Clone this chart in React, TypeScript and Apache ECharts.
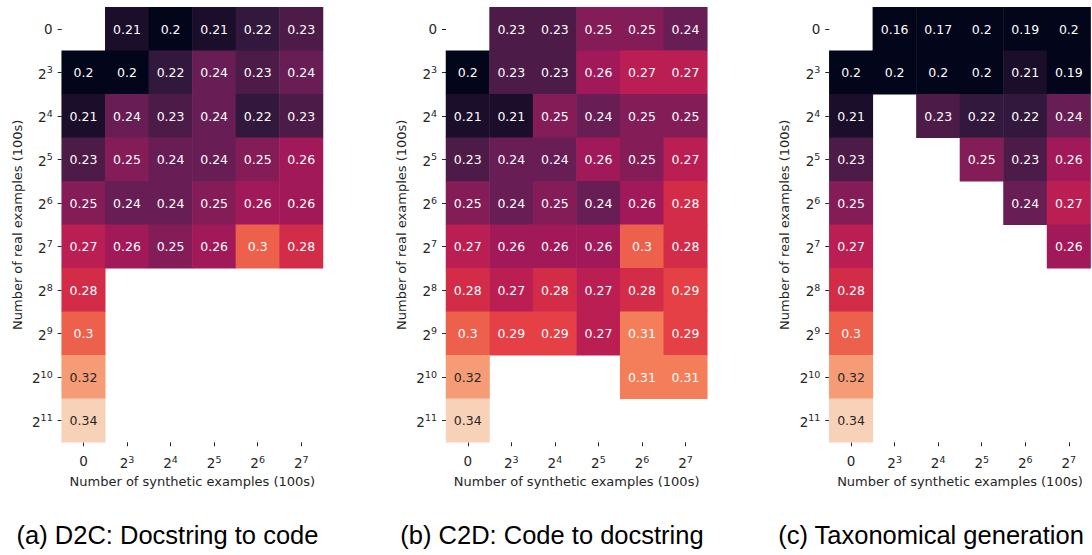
import React, { useEffect, useRef } from "react";
import * as echarts from "echarts";

const xCategories = ["0", "2^3", "2^4", "2^5", "2^6", "2^7"];
const yCategories = ["0", "2^3", "2^4", "2^5", "2^6", "2^7", "2^8", "2^9", "2^10", "2^11"];

const d2cValues: (number | null)[][] = [
  [null, 0.21, 0.2, 0.21, 0.22, 0.23],
  [0.2, 0.2, 0.22, 0.24, 0.23, 0.24],
  [0.21, 0.24, 0.23, 0.24, 0.22, 0.23],
  [0.23, 0.25, 0.24, 0.24, 0.25, 0.26],
  [0.25, 0.24, 0.24, 0.25, 0.26, 0.26],
  [0.27, 0.26, 0.25, 0.26, 0.3, 0.28],
  [0.28, null, null, null, null, null],
  [0.3, null, null, null, null, null],
  [0.32, null, null, null, null, null],
  [0.34, null, null, null, null, null],
];

const c2dValues: (number | null)[][] = [
  [null, 0.23, 0.23, 0.25, 0.25, 0.24],
  [0.2, 0.23, 0.23, 0.26, 0.27, 0.27],
  [0.21, 0.21, 0.25, 0.24, 0.25, 0.25],
  [0.23, 0.24, 0.24, 0.26, 0.25, 0.27],
  [0.25, 0.24, 0.25, 0.24, 0.26, 0.28],
  [0.27, 0.26, 0.26, 0.26, 0.3, 0.28],
  [0.28, 0.27, 0.28, 0.27, 0.28, 0.29],
  [0.3, 0.29, 0.29, 0.27, 0.31, 0.29],
  [0.32, null, null, null, 0.31, 0.31],
  [0.34, null, null, null, null, null],
];

const taxValues: (number | null)[][] = [
  [null, 0.16, 0.17, 0.2, 0.19, 0.2],
  [0.2, 0.2, 0.2, 0.2, 0.21, 0.19],
  [0.21, null, 0.23, 0.22, 0.22, 0.24],
  [0.23, null, null, 0.25, 0.23, 0.26],
  [0.25, null, null, null, 0.24, 0.27],
  [0.27, null, null, null, null, 0.26],
  [0.28, null, null, null, null, null],
  [0.3, null, null, null, null, null],
  [0.32, null, null, null, null, null],
  [0.34, null, null, null, null, null],
];

const panelTitles = ["(a) D2C: Docstring to code", "(b) C2D: Code to docstring", "(c) Taxonomical generation"];
const xAxisName = "Number of synthetic examples (100s)";
const yAxisName = "Number of real examples (100s)";

const rocket = ["#03051a", "#35193e", "#701f57", "#ad1759", "#e13342", "#f37651", "#f6b48f", "#faebdd"];

const TEXT = "#262626";
const FONT = "DejaVu Sans";

function tickFormatter(v: string) {
  if (v.indexOf("^") < 0) return "{b|" + v + "}";
  const [base, exp] = v.split("^");
  return "{b|" + base + "}{s|" + exp + "}";
}

const richLabels = {
  b: { fontSize: 13.5, fontFamily: FONT, color: TEXT, verticalAlign: "bottom" },
  s: { fontSize: 9.5, fontFamily: FONT, color: TEXT, verticalAlign: "bottom", padding: [0, 0, 6, 0] },
};

function buildData(values: (number | null)[][]) {
  const out: any[] = [];
  values.forEach((row, r) => {
    row.forEach((v, c) => {
      if (v === null) return;
      out.push({ value: [c, r, v], label: { color: v >= 0.32 ? TEXT : "#ffffff" } });
    });
  });
  return out;
}

export default function App() {
  const ref = useRef<HTMLDivElement>(null);
  useEffect(() => {
    if (!ref.current) return;
    const chart = echarts.init(ref.current, undefined, { renderer: "svg" });
    const lefts = [61.7, 446, 829.3];
    const panels = [d2cValues, c2dValues, taxValues];
    const captionCenters = [167.5, 552, 931];
    const grids = lefts.map((l) => ({ left: l, top: 7.3, width: 261.3, height: 435 }));
    const xAxes = lefts.map((_, i) => ({
      type: "category",
      gridIndex: i,
      data: xCategories,
      position: "bottom",
      axisLine: { show: false },
      axisTick: { show: true, interval: 0, length: 4, alignWithLabel: true, lineStyle: { color: TEXT } },
      axisLabel: { interval: 0, formatter: tickFormatter, rich: richLabels, margin: 12 },
      splitLine: { show: false },
      name: xAxisName,
      nameLocation: "middle",
      nameGap: 32,
      nameTextStyle: { fontFamily: FONT, fontSize: 13, color: TEXT },
    }));
    const yAxes = lefts.map((_, i) => ({
      type: "category",
      gridIndex: i,
      data: yCategories,
      inverse: true,
      axisLine: { show: false },
      axisTick: { show: true, interval: 0, length: 4, alignWithLabel: true, lineStyle: { color: TEXT } },
      axisLabel: { interval: 0, formatter: tickFormatter, rich: richLabels, margin: 9 },
      splitLine: { show: false },
      name: yAxisName,
      nameLocation: "middle",
      nameGap: 38,
      nameRotate: 90,
      nameTextStyle: { fontFamily: FONT, fontSize: 13, color: TEXT },
    }));
    const series = panels.map((vals, i) => ({
      type: "heatmap",
      xAxisIndex: i,
      yAxisIndex: i,
      data: buildData(vals),
      label: {
        show: true,
        fontFamily: FONT,
        fontSize: 12.5,
        formatter: (p: any) => String(p.value[2]),
      },
      emphasis: { disabled: true },
    }));
    chart.setOption({
      animation: false,
      backgroundColor: "#ffffff",
      grid: grids,
      xAxis: xAxes,
      yAxis: yAxes,
      visualMap: {
        show: false,
        type: "continuous",
        min: 0.2,
        max: 0.35,
        dimension: 2,
        seriesIndex: [0, 1, 2],
        inRange: { color: rocket },
      },
      series,
      graphic: panelTitles.map((t, i) => ({
        type: "text",
        x: captionCenters[i],
        y: 535,
        style: {
          text: t,
          fontFamily: "Liberation Sans",
          fontSize: 25.5,
          fill: "#000000",
          align: "center",
          verticalAlign: "middle",
        },
      })),
    });
    return () => chart.dispose();
  }, []);
  return (
    <div
      ref={ref}
      style={{ position: "fixed", left: 0, top: 0, width: 1092, height: 555 }}
    />
  );
}
